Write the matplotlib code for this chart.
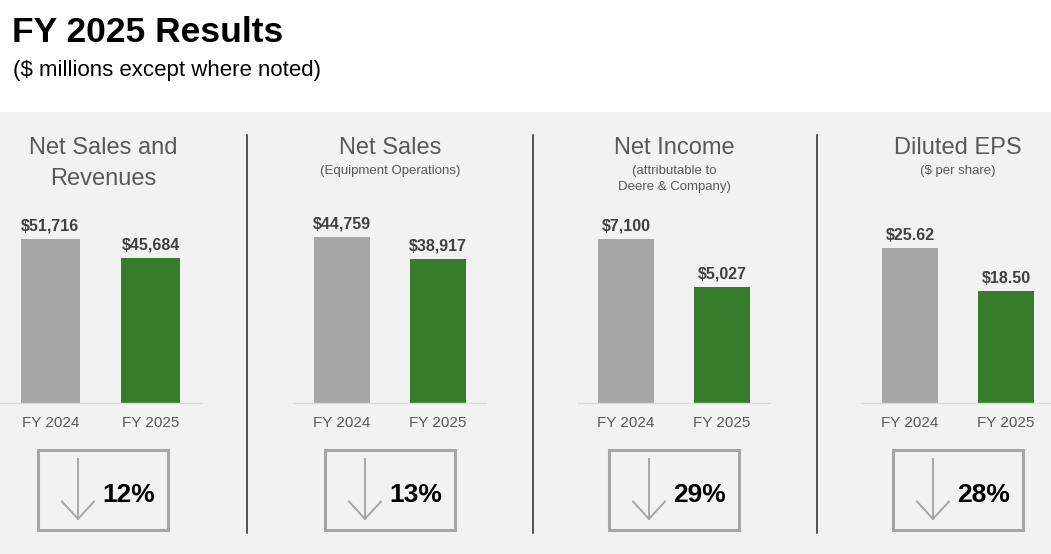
import matplotlib
matplotlib.use("Agg")
import matplotlib.pyplot as plt
from matplotlib.patches import Rectangle
from matplotlib.lines import Line2D

plt.rcParams['font.family'] = ['Liberation Sans', 'DejaVu Sans']

# data
periods = ["FY 2024", "FY 2025"]
titles = ["Net Sales and\nRevenues", "Net Sales", "Net Income", "Diluted EPS"]
notes = ["", "(Equipment Operations)", "(attributable to\nDeere & Company)", "($ per share)"]
net_sales_rev = [51716, 45684]
net_sales_eo = [44759, 38917]
net_income = [7100, 5027]
diluted_eps = [25.62, 18.50]
changes = ["12%", "13%", "29%", "28%"]

series = [net_sales_rev, net_sales_eo, net_income, diluted_eps]
fmts = ["${:,.0f}", "${:,.0f}", "${:,.0f}", "${:.2f}"]

# layout (pixels of a 1051x554 canvas)
W, H = 1051, 554
ax_left = [0, 294, 578, 862]
ax_width = [201, 192, 192, 192]
ax_top, ax_bottom = 230, 403
ylim_top = [54550, 46650, 7490, 28.6]
text_cx = [103, 390, 674, 958]
dividers = [247, 533, 817]

GRAY_BAR = "#a6a6a6"
GREEN = "#367c2b"
BG = "#f2f2f2"
TXT = "#595959"


def fx(x):
    return x / W


def fy(y):
    return 1 - y / H


fig = plt.figure(figsize=(W / 100, H / 100), dpi=100)
fig.patch.set_facecolor("white")

# grey panel behind the charts
fig.add_artist(Rectangle((0, 0), 1, fy(112), transform=fig.transFigure,
                         facecolor=BG, edgecolor="none", zorder=0))

fig.text(fx(12), fy(42), "FY 2025 Results", fontsize=25.5, fontweight="bold",
         color="black", va="baseline")
fig.text(fx(13), fy(76), "($ millions except where noted)", fontsize=16,
         color="black", va="baseline")

for i in range(4):
    ax = fig.add_axes([fx(ax_left[i]), fy(ax_bottom), ax_width[i] / W,
                       (ax_bottom - ax_top) / H])
    ax.set_facecolor("none")
    vals = series[i]
    bars = ax.bar([0, 1], vals, width=0.585, color=[GRAY_BAR, GREEN], zorder=2)
    ax.set_xlim(-0.5, 1.5)
    ax.set_ylim(0, ylim_top[i])
    for b, v in zip(bars, vals):
        ax.annotate(fmts[i].format(v), (b.get_x() + b.get_width() / 2, v),
                    xytext=(0, 6), textcoords="offset points", ha="center",
                    va="baseline", fontsize=11.5, fontweight="bold",
                    color="#404040")
    ax.set_xticks([0, 1])
    ax.set_xticklabels(periods, fontsize=11, color=TXT)
    ax.tick_params(axis="x", length=0, pad=9.5)
    ax.set_yticks([])
    for s in ["top", "left", "right"]:
        ax.spines[s].set_visible(False)
    ax.spines["bottom"].set_color("#d9d9d9")
    ax.spines["bottom"].set_linewidth(1.0)

    cx = text_cx[i]
    for k, line in enumerate(titles[i].split("\n")):
        fig.text(fx(cx), fy(154.5 + 30 * k), line, fontsize=17, color=TXT,
                 ha="center", va="baseline")
    if notes[i]:
        for k, line in enumerate(notes[i].split("\n")):
            fig.text(fx(cx), fy(174 + 16 * k), line, fontsize=9.5, color=TXT,
                     ha="center", va="baseline")

    # change box with down arrow
    bl = cx - 65
    fig.add_artist(Rectangle((fx(bl), fy(530)), 130 / W, 80 / H,
                             transform=fig.transFigure, facecolor="none",
                             edgecolor=GRAY_BAR, linewidth=2.2, zorder=3))
    axx = bl + 40
    fig.add_artist(Line2D([fx(axx), fx(axx)], [fy(459), fy(519)],
                          transform=fig.transFigure, color=GRAY_BAR, lw=1.4))
    fig.add_artist(Line2D([fx(axx - 16), fx(axx), fx(axx + 16)],
                          [fy(501.5), fy(519), fy(501.5)],
                          transform=fig.transFigure, color=GRAY_BAR, lw=1.4))
    fig.text(fx(bl + 91), fy(502), changes[i], fontsize=19,
             fontweight="bold", color="black", ha="center", va="baseline")

for x in dividers:
    fig.add_artist(Line2D([fx(x), fx(x)], [fy(135), fy(533)],
                          transform=fig.transFigure, color="#262626", lw=1.1))

fig.savefig("out.png", dpi=100)
